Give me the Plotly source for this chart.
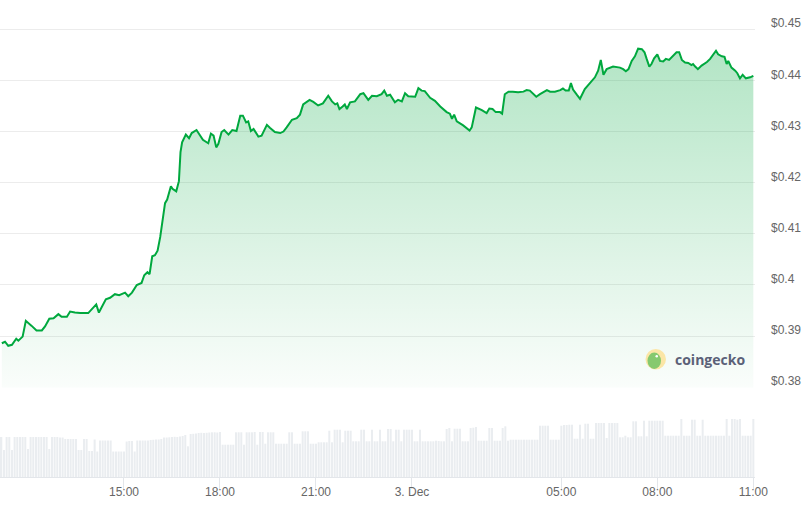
import plotly.graph_objects as go
from datetime import datetime, timedelta

# ---------------- data ----------------
price_times = [
    "11:11","11:17","11:23","11:30","11:38","11:42","11:50","11:56","12:07","12:16",
    "12:26","12:32","12:40","12:48","12:57","13:03","13:13","13:19","13:28","13:38",
    "13:53","14:08","14:13","14:26","14:34","14:43","14:51","15:02","15:08","15:15",
    "15:24","15:33","15:38","15:44","15:48","15:53","15:58","16:03","16:08","16:12",
    "16:17","16:21","16:28","16:31","16:38","16:43","16:46","16:49","16:56","17:02",
    "17:07","17:16","17:21","17:28","17:35","17:38","17:43","17:48","17:53","17:57",
    "18:03","18:08","18:16","18:23","18:31","18:38","18:43","18:49","18:53","18:58",
    "19:03","19:12","19:18","19:28","19:34","19:43","19:53","19:59","20:05","20:15",
    "20:24","20:30","20:36","20:48","20:55","21:04","21:13","21:23","21:30","21:36",
    "21:40","21:44","21:50","21:54","21:58","22:04","22:13","22:23","22:29","22:38",
    "22:45","22:54","23:03","23:08","23:13","23:19","23:28","23:34","23:41","23:47",
    "23:53","00:06","00:12","00:18","00:24","00:34","00:43","00:53","01:05","01:11",
    "01:15","01:19","01:24","01:36","01:48","01:52","02:20","02:31","02:40","02:45",
    "02:51","02:57","03:05","03:09","03:14","03:21","03:29","03:39","03:49","03:55",
    "04:01","04:07","04:13","04:20","04:26","04:33","04:39","04:48","04:58","05:03",
    "05:08","05:14","05:18","05:22","05:29","05:35","05:44","05:54","06:03","06:09",
    "06:14","06:19","06:25","06:37","06:50","06:56","07:01","07:06","07:12","07:18",
    "07:24","07:31","07:36","07:40","07:45","07:49","07:54","08:00","08:05","08:11",
    "08:16","08:22","08:27","08:36","08:41","08:46","08:52","08:58","09:04","09:07",
    "09:11","09:16","09:23","09:33","09:39","09:45","09:50","09:54","10:01","10:06",
    "10:10","10:13","10:19","10:26","10:30","10:35","10:40","10:46","10:54","11:00",
]

price_values = [
    0.3886,0.3889,0.3881,0.3883,0.3895,0.3891,0.3899,0.3930,0.3920,0.3911,
    0.3911,0.3919,0.3934,0.3935,0.3943,0.3938,0.3938,0.3948,0.3946,0.3945,
    0.3945,0.3962,0.3946,0.3972,0.3975,0.3982,0.3980,0.3985,0.3978,0.3985,
    0.4000,0.4004,0.4019,0.4025,0.4021,0.4056,0.4058,0.4067,0.4094,0.4127,
    0.4160,0.4167,0.4193,0.4188,0.4183,0.4203,0.4260,0.4279,0.4294,0.4287,
    0.4297,0.4303,0.4296,0.4284,0.4279,0.4277,0.4296,0.4292,0.4269,0.4276,
    0.4299,0.4303,0.4294,0.4303,0.4301,0.4331,0.4331,0.4318,0.4320,0.4301,
    0.4305,0.4290,0.4292,0.4313,0.4307,0.4299,0.4297,0.4300,0.4308,0.4323,
    0.4326,0.4333,0.4353,0.4362,0.4358,0.4351,0.4355,0.4370,0.4359,0.4353,
    0.4355,0.4344,0.4349,0.4353,0.4344,0.4357,0.4359,0.4373,0.4375,0.4362,
    0.4370,0.4369,0.4373,0.4380,0.4370,0.4372,0.4357,0.4362,0.4359,0.4375,
    0.4369,0.4368,0.4385,0.4380,0.4379,0.4366,0.4360,0.4349,0.4338,0.4335,
    0.4325,0.4333,0.4320,0.4312,0.4302,0.4308,0.4347,0.4342,0.4336,0.4345,
    0.4344,0.4338,0.4338,0.4335,0.4373,0.4378,0.4378,0.4377,0.4378,0.4381,
    0.4380,0.4373,0.4368,0.4373,0.4377,0.4381,0.4378,0.4378,0.4381,0.4384,
    0.4380,0.4380,0.4395,0.4382,0.4372,0.4364,0.4383,0.4394,0.4406,0.4419,
    0.4440,0.4411,0.4422,0.4427,0.4425,0.4422,0.4418,0.4422,0.4438,0.4447,
    0.4462,0.4461,0.4455,0.4442,0.4427,0.4432,0.4443,0.4451,0.4438,0.4437,
    0.4442,0.4440,0.4445,0.4455,0.4455,0.4440,0.4435,0.4434,0.4430,0.4432,
    0.4427,0.4422,0.4429,0.4436,0.4442,0.4451,0.4458,0.4451,0.4447,0.4446,
    0.4432,0.4438,0.4425,0.4419,0.4414,0.4404,0.4411,0.4404,0.4406,0.4409,
]

# 5-minute volume bars (thousand USD, relative)
volume_values = [
    400,270,400,400,270,400,400,400,400,400,
    280,400,400,400,400,400,400,400,280,400,
    400,400,395,395,380,380,380,380,380,270,
    270,380,380,260,260,375,255,365,365,365,
    365,365,255,255,255,255,255,355,360,360,
    255,365,365,365,365,365,370,372,375,375,
    380,395,395,397,400,402,400,405,410,420,
    307,430,432,435,440,442,440,442,445,447,
    447,445,450,323,323,323,323,323,447,447,
    447,323,447,447,447,450,323,450,450,333,
    447,447,447,333,333,333,333,333,447,447,
    333,333,333,457,457,457,333,333,333,347,
    347,347,347,463,347,473,473,473,347,463,
    463,463,357,357,357,473,473,357,357,473,
    357,357,473,357,357,480,480,357,473,473,
    357,473,473,473,473,357,357,473,357,357,
    357,357,357,363,360,357,357,480,490,357,
    483,483,483,357,357,357,490,493,500,363,
    363,363,363,490,490,363,363,363,490,507,
    363,373,373,373,373,373,373,373,373,373,
    373,373,513,513,513,513,373,373,373,373,
    513,520,520,523,523,383,383,523,383,533,
    533,383,383,540,540,540,540,390,540,540,
    540,540,397,397,413,397,397,557,557,407,
    407,563,407,563,563,563,563,563,563,413,
    413,413,413,413,413,580,413,413,413,573,
    573,413,413,573,413,413,413,413,413,413,
    413,413,580,413,580,580,573,580,413,413,
    413,413,580,
]

y_tick_values = [0.38, 0.39, 0.40, 0.41, 0.42, 0.43, 0.44, 0.45]
y_tick_text = ["$0.38", "$0.39", "$0.4", "$0.41", "$0.42", "$0.43", "$0.44", "$0.45"]
x_tick_values = ["2023-12-02 15:00", "2023-12-02 18:00", "2023-12-02 21:00", "2023-12-03 00:00",
                 "2023-12-03 05:00", "2023-12-03 08:00", "2023-12-03 11:00"]
x_tick_text = ["15:00", "18:00", "21:00", "3. Dec", "05:00", "08:00", "11:00"]

# ---------------- build timestamps ----------------
day = datetime(2023, 12, 2)
price_x = []
prev_h = -1
for s in price_times:
    h, m = map(int, s.split(":"))
    if h < prev_h:
        day = day + timedelta(days=1)
    prev_h = h
    price_x.append(day.replace(hour=h, minute=m))

# 5-min candles; the data feed has a missing stretch (ordinal axis collapses it)
gap_start = datetime(2023, 12, 3, 2, 0)
gap_end = datetime(2023, 12, 3, 2, 20)
bar_x = []
t = datetime(2023, 12, 2, 11, 10)
for _ in volume_values:
    bar_x.append(t)
    t += timedelta(minutes=5)
    if t == gap_start:
        t = gap_end

GREEN = "#00a83e"
LABEL = "#666666"
FONT = "Liberation Sans, Arial, sans-serif"

fig = go.Figure()
fig.add_trace(go.Bar(
    x=bar_x, y=volume_values, yaxis="y2", xaxis="x",
    marker=dict(color="#eaedf0", line=dict(width=0)),
    hoverinfo="skip",
))
fig.add_trace(go.Scatter(
    x=price_x, y=price_values, yaxis="y", xaxis="x",
    mode="lines", line=dict(color=GREEN, width=2),
    fill="tozeroy",
    fillgradient=dict(type="vertical",
                      colorscale=[[0, "rgba(0,168,62,0.02)"], [1, "rgba(0,168,62,0.30)"]],
                      start=0.38, stop=0.4462),
))

fig.update_layout(
    width=812, height=510,
    margin=dict(l=0, r=57, t=5, b=33),
    paper_bgcolor="white", plot_bgcolor="white",
    showlegend=False, bargap=0.25,
    font=dict(family=FONT, size=12, color=LABEL),
    xaxis=dict(
        type="date", anchor="y2",
        range=["2023-12-02 11:07:34", "2023-12-03 11:03:08"],
        rangebreaks=[dict(bounds=["2023-12-03 01:57:30", "2023-12-03 02:17:30"])],
        tickmode="array", tickvals=x_tick_values, ticktext=x_tick_text,
        ticks="outside", ticklen=11, tickcolor="#e3e6ea", tickwidth=1,
        ticklabelstandoff=-7,
        showgrid=False, zeroline=False,
        showline=True, linecolor="#e3e6ea", linewidth=1,
        tickfont=dict(family=FONT, size=12, color=LABEL),
    ),
    yaxis=dict(
        domain=[0.1896, 1.0], anchor="x", side="right",
        range=[0.37995, 0.45474],
        tickmode="array", tickvals=y_tick_values, ticktext=y_tick_text,
        ticks="", ticklabelposition="outside", ticklabelstandoff=15,
        ticklabelshift=-6,
        showgrid=True, gridcolor="#ececec", gridwidth=1,
        zeroline=False, showline=False,
        tickfont=dict(family=FONT, size=12, color=LABEL),
    ),
    yaxis2=dict(
        domain=[0.0, 0.1737], anchor="x", range=[0, 820],
        visible=False, showgrid=False, zeroline=False,
    ),
)

# coingecko watermark
W, H0 = 755.0, 472.0
def px(x):
    return x / W
def py(y):
    return (477.0 - y) / H0

fig.add_shape(type="circle", xref="paper", yref="paper",
              x0=px(645.5), x1=px(666), y0=py(369.5), y1=py(349),
              fillcolor="#fbe6a6", line=dict(width=0), layer="above")
fig.add_shape(type="circle", xref="paper", yref="paper",
              x0=px(647.5), x1=px(661), y0=py(369), y1=py(352.5),
              fillcolor="#86c96f", line=dict(width=0), layer="above")
fig.add_shape(type="circle", xref="paper", yref="paper",
              x0=px(655.5), x1=px(658), y0=py(357.5), y1=py(355),
              fillcolor="white", line=dict(width=0), layer="above")
fig.add_annotation(text="<b>coingecko</b>", xref="paper", yref="paper",
                   x=px(709.5), y=py(359), xanchor="center", yanchor="middle",
                   showarrow=False,
                   font=dict(family="Open Sans, sans-serif", size=14, color="#5b6178"))

fig.write_html("out.html", config={"displayModeBar": False},
               post_script="document.body.style.margin='0';document.body.style.overflow='hidden';")
